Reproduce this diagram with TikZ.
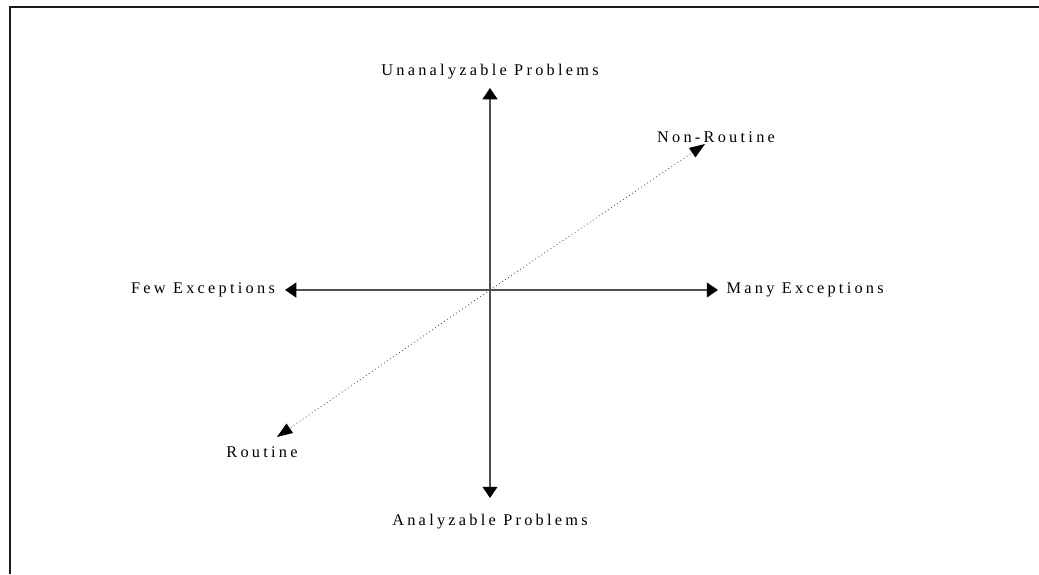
\documentclass[tikz,border=0pt]{standalone}
\usepackage{fontspec}
\setmainfont{Liberation Serif}
\usepackage{xcolor}
\usepackage{tikz}
\usetikzlibrary{positioning, arrows.meta}
\definecolor{axis}{HTML}{505050}
\definecolor{frame}{HTML}{1A1A1A}

\begin{document}
\begin{tikzpicture}[x=0.025cm,y=0.025cm,
  lbl/.style={font=\fontsize{11.6}{13}\selectfont\addfontfeature{LetterSpace=20},inner sep=0pt},
  tip/.style={-{Triangle[length=8pt,width=10.5pt,color=black,fill=black]}},
  diagtip/.style={-{Triangle[length=11pt,width=8pt,color=black,fill=black]}},
  ax/.style={draw=axis,line width=1.3pt,tip},
  diag/.style={draw=axis,line width=0.6pt,dotted,diagtip},
  >=Stealth]
  \useasboundingbox (0,0) rectangle (1039,-574);
  \draw[frame,line width=1.6pt] (10,-574) -- (10,-7) -- (1039,-7);
  \coordinate (O) at (490,-290);
  \coordinate (up) at (490,-88);
  \coordinate (down) at (490,-498);
  \coordinate (left) at (285,-290);
  \coordinate (right) at (718,-290);
  \coordinate (nr) at (705,-144);
  \coordinate (rt) at (277,-437);
  \node[lbl] (unan) at (490,-72) {Unanalyzable Problems};
  \node[lbl] (anal) at (490,-522) {Analyzable Problems};
  \node[lbl,left=7pt of left] (few) {Few Exceptions};
  \node[lbl,right=6pt of right] (many) {Many Exceptions};
  \node[lbl] (nonr) at (716,-137) {Non-Routine};
  \node[lbl] (rout) at (262,-452) {Routine};
  \draw[ax] (O) -- (up);
  \draw[ax] (O) -- (down);
  \draw[ax] (O) -- (left);
  \draw[ax] (O) -- (right);
  \draw[diag] (O) -- (nr);
  \draw[diag] (O) -- (rt);
\end{tikzpicture}
\end{document}
